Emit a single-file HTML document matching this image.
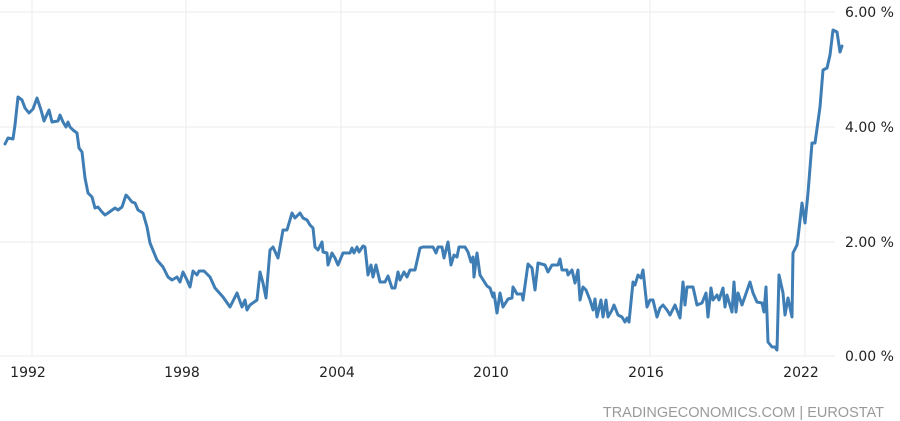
<!DOCTYPE html>
<html><head><meta charset="utf-8"><style>
html,body{margin:0;padding:0;background:#fff;}
svg{display:block;font-family:"DejaVu Sans","Liberation Sans",sans-serif;}
</style></head><body>
<svg width="900" height="421" viewBox="0 0 900 421" xmlns="http://www.w3.org/2000/svg">
<g stroke="#ebebeb" stroke-width="1">
<line x1="0" y1="12" x2="835" y2="12"/>
<line x1="0" y1="127" x2="835" y2="127"/>
<line x1="0" y1="242" x2="835" y2="242"/>
<line x1="0" y1="356" x2="835" y2="356"/>
<line x1="32" y1="0" x2="32" y2="356"/>
<line x1="186" y1="0" x2="186" y2="356"/>
<line x1="341" y1="0" x2="341" y2="356"/>
<line x1="495" y1="0" x2="495" y2="356"/>
<line x1="650" y1="0" x2="650" y2="356"/>
<line x1="805" y1="0" x2="805" y2="356"/>
</g>
<polyline fill="none" stroke="#3f7db5" stroke-width="3" stroke-linejoin="round" stroke-linecap="round" points="
5,144 8,138 13,139 15,125 18,97 22,100 25,108 29,113 33,109 37,98 41,110 44,121 49,110 52,122 58,121 60,115 63,122 66,127 68,122 70,127 73,130 77,133 79,148 82,152 85,178 88,193 92,197 95,208 98,207 102,212 105,215 108,213 115,208 118,210 122,207 126,195 128,197 132,202 135,203 138,210 143,213 147,227 150,243 157,260 163,267 168,277 172,280 177,277 180,282 183,272 187,280 190,287 193,271 197,275 199,271 204,271 210,277 215,288 223,297 230,307 237,293 242,307 245,300 247,310 250,305 257,300 260,272 263,283 266,298 270,250 273,247 278,258 283,230 287,230 292,213 295,218 300,213
303,218 307,220 310,225 313,228 315,247 318,250 322,242 323,252 327,253 328,265 332,253 335,258 338,265 343,253 350,253 352,248 354,253 357,247 359,252 363,246 365,247 368,275 371,265 373,277 376,265 380,282 385,282 388,276 392,288 395,288 398,272 400,280 404,272 407,277 410,270 415,270 420,248 423,247 433,247 436,253 438,247 442,247 444,258 448,242 451,265 454,255 457,257 459,247 465,247 468,252 471,262 473,257 474,277 477,253 480,275 487,286 490,288 493,297 494,293 497,313 500,293 503,307 508,299 512,298 513,287 517,294 522,294 523,300 528,264 532,268 535,290 538,263 545,265 548,272 552,265 558,265 560,259 562,270 567,270 568,275 572,270 575,283 578,270 580,300 583,287 586,290 590,300 593,310 595,299 597,317 601,300 603,317 606,300 608,317 612,310 614,305 618,315 622,317 625,322 627,318 629,322 633,282 635,285 638,275 641,278 643,270 647,307 650,300 653,300 657,317 660,308 663,305 667,310 670,315 675,305 680,318 683,282 685,305 687,287 693,287 697,305 702,303 706,293 708,317 711,288 713,300 717,295 719,300 723,288 725,307 727,295 732,312 734,282 736,312 738,293 742,305 750,282 753,293 757,302 762,303 764,312 766,287 768,342 772,347 775,347 777,350 779,275 783,293 785,315 788,298 792,317 793,253 797,245 798,238 802,203 805,223 808,193 812,143 815,143 820,107 823,70 827,68 830,55 833,30 837,32 840,52 842,46"/>
<g fill="#222" font-size="14">
<text x="845" y="17">6.00 %</text>
<text x="845" y="132">4.00 %</text>
<text x="845" y="247">2.00 %</text>
<text x="845" y="361">0.00 %</text>
</g>
<g fill="#222" font-size="14" text-anchor="middle">
<text x="28" y="377">1992</text>
<text x="182" y="377">1998</text>
<text x="337" y="377">2004</text>
<text x="491" y="377">2010</text>
<text x="646" y="377">2016</text>
<text x="801" y="377">2022</text>
</g>
<text x="884" y="417" text-anchor="end" fill="#9a9a9a" font-size="14.5" font-family="Liberation Sans, sans-serif">TRADINGECONOMICS.COM | EUROSTAT</text>
</svg>
</body></html>
